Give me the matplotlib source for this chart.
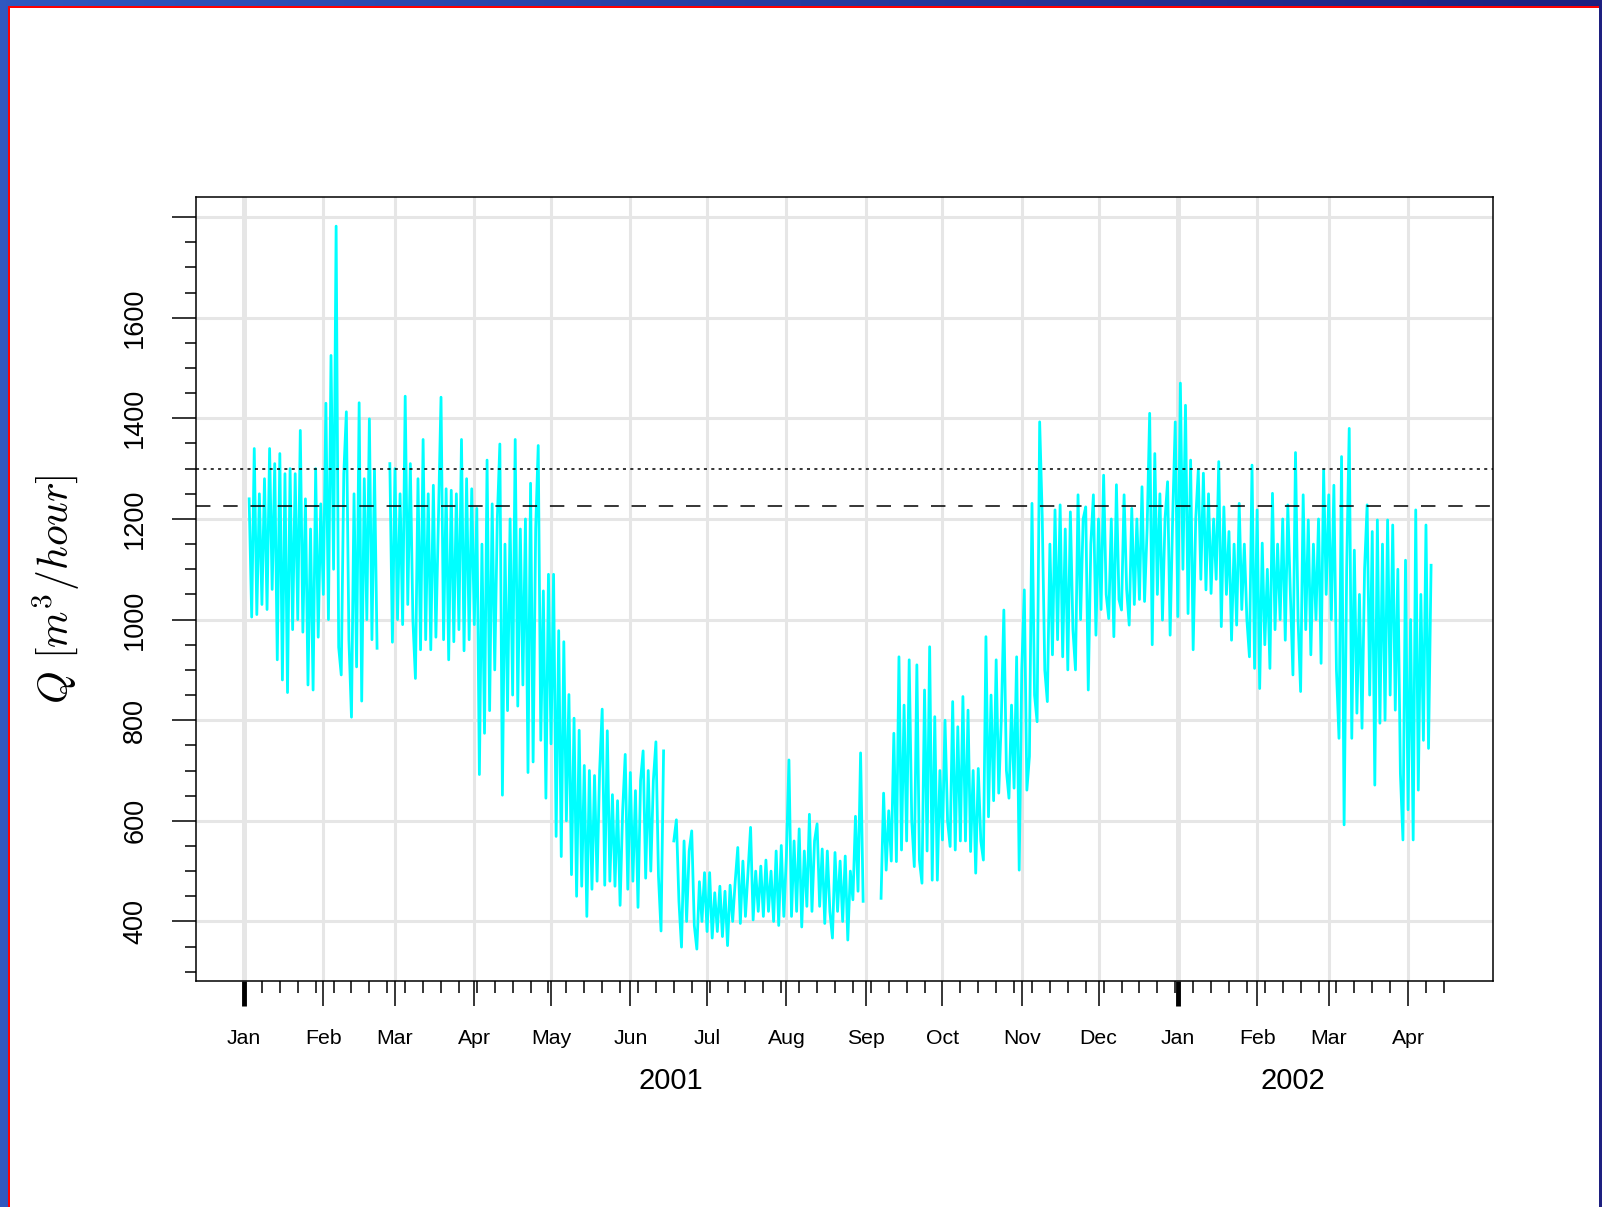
import numpy as np
import matplotlib.pyplot as plt
import matplotlib.dates as mdates
from matplotlib.patches import Rectangle
from matplotlib.transforms import blended_transform_factory

nan = np.nan

# daily flow Q [m3/hour], each list starts at its first date
flow_2001_01 = [1240, 1005, 1340, 1010, 1250, 1030, 1280, 1020, 1340, 1060, 1310,
                920, 1330, 880, 1290, 855, 1300, 980, 1290, 1000, 1376, 975,
                1240, 870, 1180, 860, 1300, 965, 1230]
flow_2001_02 = [1050, 1430, 1000, 1525, 1100, 1782, 945, 890, 1290, 1413, 960, 806,
                1250, 906, 1431, 838, 1280, 1000, 1399, 960, 1298, 943,
                nan, nan, nan, nan, 1310, 955]
flow_2001_03 = [1300, 1000, 1250, 990, 1444, 1030, 1310, 1000, 883, 1280, 940, 1358,
                960, 1250, 940, 1267, 965, 1200, 1442, 960, 1260, 920, 1257, 956,
                1250, 980, 1358, 938, 1280, 960, 1260]
flow_2001_04 = [990, 1221, 692, 1150, 774, 1317, 819, 1230, 900, 1200, 1349, 651,
                1150, 819, 1200, 850, 1358, 828, 1180, 870, 1200, 696, 1271, 717,
                1180, 1346, 760, 1057, 645, 1090]
flow_2001_05 = [753, 1090, 569, 978, 529, 956, 600, 851, 493, 804, 450, 780, 470, 710,
                410, 700, 464, 690, 480, 700, 822, 472, 779, 480, 652, 470, 640, 432,
                620, 732, 464]
flow_2001_06 = [696, 480, 660, 428, 680, 739, 486, 700, 500, 680, 757, 490, 381, 739,
                nan, nan, nan, 560, 602, 440, 349, 560, 400, 540, 580, 392,
                345, 479, 400, 497]
flow_2001_07 = [380, 497, 367, 457, 380, 470, 370, 460, 352, 472, 400, 480, 547, 396,
                520, 410, 500, 587, 403, 500, 420, 510, 410, 522, 420, 500, 400,
                540, 392, 551, 410]
flow_2001_08 = [530, 721, 410, 560, 420, 584, 389, 540, 430, 613, 420, 560, 594, 430,
                544, 396, 540, 420, 367, 537, 420, 520, 400, 530, 363, 500,
                443, 609, 460, 735, 440]
flow_2001_09 = [nan, nan, nan, nan, nan, nan, 446, 655, 502, 620, 520, 774,
                519, 926, 542, 830, 560, 920, 600, 509, 910, 522,
                476, 860, 540, 946, 482, 807, 482, 700]
flow_2001_10 = [562, 800, 600, 549, 837, 542, 787, 560, 847, 560, 820, 539, 700, 496,
                704, 560, 522, 966, 608, 850, 640, 920, 655, 800, 1019,
                700, 645, 830, 665, 926, 502]
flow_2001_11 = [900, 1059, 661, 728, 1231, 850, 797, 1393, 1205, 900, 837, 1150,
                930, 1218, 960, 1228, 926, 1180, 900, 1214, 980, 900, 1248, 1000,
                1200, 1224, 860, 1150, 1248, 969]
flow_2001_12 = [1200, 1020, 1287, 1050, 1002, 1200, 966, 1268, 1040, 1019, 1248, 1060,
                989, 1221, 1030, 1200, 1040, 1264, 1036, 1180, 1410, 950, 1330, 1050,
                1250, 999, 1200, 1274, 969, 1205, 1393]
flow_2002_01 = [1006, 1470, 1100, 1426, 1012, 1317, 940, 1200, 1297, 1080, 1291, 1059,
                1250, 1052, 1200, 1080, 1314, 986, 1224, 1050, 1175, 959, 1150, 989,
                1231, 1020, 1150, 1000, 926, 1307, 903]
flow_2002_02 = [1218, 863, 1152, 950, 1100, 903, 1251, 980, 1150, 1000, 1200, 959,
                1228, 1050, 890, 1332, 1000, 857, 1248, 980, 1198, 930, 1150, 1000,
                1200, 913, 1297, 1050]
flow_2002_03 = [1248, 1000, 1267, 900, 764, 1324, 592, 1100, 1380, 764, 1138, 814,
                1050, 784, 1100, 1228, 850, 1175, 671, 1198, 794, 1150, 800, 1198,
                850, 1188, 820, 1100, 694, 562, 1118]
flow_2002_04 = [622, 1000, 562, 1218, 661, 1050, 760, 1188, 744, 1108]

segment_starts = ['2001-01-03', '2001-02-01', '2001-03-01', '2001-04-01', '2001-05-01',
                  '2001-06-01', '2001-07-01', '2001-08-01', '2001-09-01', '2001-10-01',
                  '2001-11-01', '2001-12-01', '2002-01-01', '2002-02-01', '2002-03-01',
                  '2002-04-01']
segments = [flow_2001_01, flow_2001_02, flow_2001_03, flow_2001_04, flow_2001_05,
            flow_2001_06, flow_2001_07, flow_2001_08, flow_2001_09, flow_2001_10,
            flow_2001_11, flow_2001_12, flow_2002_01, flow_2002_02, flow_2002_03,
            flow_2002_04]

month_labels = ['Jan', 'Feb', 'Mar', 'Apr', 'May', 'Jun', 'Jul', 'Aug', 'Sep', 'Oct',
                'Nov', 'Dec', 'Jan', 'Feb', 'Mar', 'Apr']
year_labels = ['2001', '2002']
q_dotted = 1300
q_dashed = 1225

plt.rcParams['font.family'] = ['Liberation Sans', 'DejaVu Sans']
plt.rcParams['mathtext.fontset'] = 'cm'
plt.rcParams['lines.scale_dashes'] = False

dates = []
values = []
for start, seg in zip(segment_starts, segments):
    d0 = np.datetime64(start)
    dates.extend(d0 + np.arange(len(seg)))
    values.extend(seg)
dates = np.array(dates, dtype='datetime64[D]')
values = np.array(values, dtype=float)

month_starts = np.arange('2001-01', '2002-05', dtype='datetime64[M]').astype('datetime64[D]')
month_x = mdates.date2num(month_starts)
weeks = mdates.date2num(np.arange(np.datetime64('2001-01-01'), np.datetime64('2002-04-16'), 7))
jan01 = mdates.date2num(np.datetime64('2001-01-01'))

W, H = 1602, 1207
fig = plt.figure(figsize=(W / 100, H / 100), dpi=100)

# slide-like frame behind the chart
bg = fig.add_axes([0, 0, 1, 1], zorder=-10)
c0 = np.array([48, 88, 192]) / 255
c1 = np.array([30, 32, 128]) / 255
t = np.linspace(0, 1, 256)[:, None]
grad = (c0 + (c1 - c0) * t)[None, :, :]
bg.imshow(grad, aspect='auto', extent=[0, W, H, 0])
bg.add_patch(Rectangle((10, 7.7), 1589, H, fc='white', ec='none'))
bg.add_patch(Rectangle((8, 5.7), 2, H, fc='#ff0000', ec='none'))
bg.add_patch(Rectangle((8, 5.7), 1591, 2, fc='#ff0000', ec='none'))
bg.set_xlim(0, W)
bg.set_ylim(H, 0)
bg.axis('off')

ax = fig.add_axes([0.1223, 0.1874, 0.8095, 0.6492])

# grid
for y in range(400, 1801, 200):
    ax.axhline(y, color='#e6e6e6', lw=2.2, zorder=0)
for i, x in enumerate(month_x):
    ax.axvline(x, color='#e6e6e6', lw=3.6 if month_labels[i] == 'Jan' else 2.2, zorder=0)

ax.plot(dates, values, color='#00ffff', lw=2.0, zorder=2)
ax.axhline(q_dotted, color='black', lw=1.1, dashes=(2.2, 3.1), zorder=3)
ax.axhline(q_dashed, color='black', lw=1.1, dashes=(10.4, 9.2), zorder=3)

ax.set_xlim(jan01 - 18.8, jan01 + 488.1)
ax.set_ylim(282, 1839.5)

ax.set_xticks(month_x)
ax.set_xticklabels(month_labels, fontsize=15.3)
ax.set_xticks(weeks, minor=True)
ax.tick_params(axis='x', which='major', length=18, width=1.1, pad=16.5)
ax.tick_params(axis='x', which='minor', length=8.6, width=1.1)
for i, tk in enumerate(ax.xaxis.get_major_ticks()):
    if month_labels[i] == 'Jan':
        tk.tick1line.set_markeredgewidth(3.5)

yt = list(range(400, 1801, 200))
ax.set_yticks(yt)
ax.set_yticklabels([str(v) if v <= 1600 else '' for v in yt], fontsize=19.5,
                   rotation=90, va='center')
ax.set_yticks(range(300, 1801, 50), minor=True)
ax.tick_params(axis='y', which='major', length=17.3, width=1.1, pad=17)
ax.tick_params(axis='y', which='minor', length=7.7, width=1.1)

for sp in ax.spines.values():
    sp.set_linewidth(1.1)

# year labels centred under each year's months
tr = blended_transform_factory(ax.transData, ax.transAxes)
ax.text((month_x[0] + month_x[11]) / 2, -0.128, year_labels[0], transform=tr,
        ha='center', va='center', fontsize=21)
ax.text((month_x[12] + month_x[15]) / 2, -0.128, year_labels[1], transform=tr,
        ha='center', va='center', fontsize=21)

fig.text(56 / W, 1 - 589 / H, r'$Q\ [m^3/hour]$', rotation=90, ha='center',
         va='center', fontsize=30)

fig.savefig('out.png', dpi=100)
